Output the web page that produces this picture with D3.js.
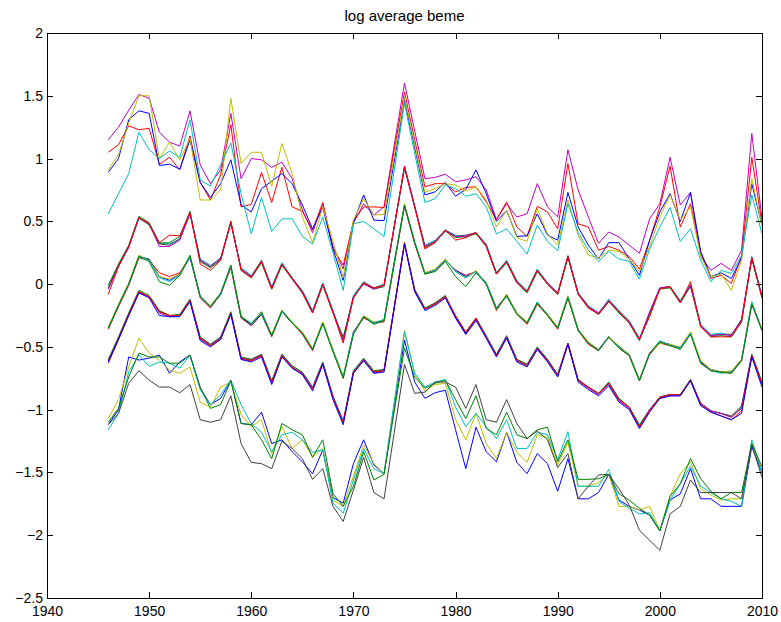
<!DOCTYPE html>
<html>
<head>
<meta charset="utf-8">
<script src="https://cdn.jsdelivr.net/npm/d3@7"></script>
<style>
  body { margin: 0; background: #ffffff; }
  svg text { font-family: "Liberation Sans", Arial, Helvetica, sans-serif; }
</style>
</head>
<body>
<svg id="chart" width="781" height="622"></svg>
<script>
// Years of observation (one value per year, 1946-2010)
const years = [
  1946,1947,1948,1949,1950,1951,1952,1953,1954,1955,
  1956,1957,1958,1959,1960,1961,1962,1963,1964,1965,
  1966,1967,1968,1969,1970,1971,1972,1973,1974,1975,
  1976,1977,1978,1979,1980,1981,1982,1983,1984,1985,
  1986,1987,1988,1989,1990,1991,1992,1993,1994,1995,
  1996,1997,1998,1999,2000,2001,2002,2003,2004,2005,
  2006,2007,2008,2009,2010
];

const xTicks = [1940, 1950, 1960, 1970, 1980, 1990, 2000, 2010];
const yTicks = [-2.5, -2, -1.5, -1, -0.5, 0, 0.5, 1, 1.5, 2];
const chartTitle = "log average beme";

// Log average BE/ME by size quintile (s1 small .. s5 big) and BE/ME quintile (bm1 low .. bm5 high)

// ---- size quintile 1 ----
const bm1_s1 = [
  -1.12,-1.00,-0.58,-0.605,-0.59,-0.565,-0.71,-0.62,-0.565,-0.83,
  -0.96,-0.91,-0.765,-1.11,-1.12,-1.02,-1.27,-1.24,-1.335,-1.415,
  -1.51,-1.32,-1.70,-1.745,-1.43,-1.24,-1.44,-1.51,-0.98,-0.445,
  -0.78,-0.91,-0.865,-0.845,-1.16,-1.47,-1.14,-1.335,-1.415,-1.18,
  -1.42,-1.51,-1.35,-1.43,-1.65,-1.39,-1.71,-1.71,-1.66,-1.515,
  -1.72,-1.77,-1.80,-1.84,-1.965,-1.72,-1.67,-1.47,-1.71,-1.71,
  -1.77,-1.77,-1.77,-1.295,-1.50
];
const bm2_s1 = [
  -0.60,-0.42,-0.23,-0.05,-0.09,-0.21,-0.25,-0.24,-0.12,-0.42,
  -0.48,-0.42,-0.22,-0.58,-0.60,-0.56,-0.77,-0.56,-0.65,-0.70,
  -0.82,-0.62,-0.89,-1.09,-0.69,-0.59,-0.69,-0.68,-0.18,0.33,
  -0.04,-0.19,-0.15,-0.09,-0.26,-0.39,-0.27,-0.41,-0.56,-0.41,
  -0.60,-0.64,-0.50,-0.60,-0.72,-0.47,-0.76,-0.82,-0.87,-0.78,
  -0.91,-0.98,-1.12,-1.00,-0.90,-0.88,-0.88,-0.76,-0.95,-1.01,
  -1.03,-1.06,-0.98,-0.56,-0.78
];
const bm3_s1 = [
  -0.36,-0.18,-0.01,0.21,0.19,0.09,0.06,0.09,0.22,-0.11,
  -0.19,-0.08,0.13,-0.27,-0.33,-0.24,-0.42,-0.22,-0.31,-0.40,
  -0.53,-0.31,-0.53,-0.75,-0.39,-0.27,-0.31,-0.30,0.16,0.62,
  0.32,0.08,0.11,0.19,0.11,0.07,0.10,0.00,-0.21,-0.09,
  -0.24,-0.32,-0.16,-0.25,-0.36,-0.11,-0.37,-0.48,-0.53,-0.42,
  -0.51,-0.57,-0.77,-0.56,-0.47,-0.49,-0.51,-0.39,-0.62,-0.69,
  -0.70,-0.71,-0.61,-0.16,-0.37
];
const bm4_s1 = [
  -0.03,0.15,0.30,0.52,0.48,0.33,0.32,0.36,0.57,0.20,
  0.15,0.20,0.48,0.13,0.07,0.18,-0.02,0.17,0.05,-0.05,
  -0.21,0.01,-0.21,-0.44,-0.09,0.02,-0.03,0.00,0.46,0.92,
  0.61,0.31,0.35,0.43,0.39,0.37,0.41,0.32,0.09,0.19,
  0.03,-0.05,0.12,0.01,-0.07,0.23,-0.07,-0.17,-0.23,-0.12,
  -0.21,-0.29,-0.43,-0.23,-0.03,-0.02,-0.13,0.00,-0.32,-0.40,
  -0.39,-0.41,-0.28,0.22,-0.09
];
const bm5_s1 = [
  1.15,1.25,1.385,1.51,1.48,1.21,1.13,1.10,1.38,0.95,
  0.80,0.91,1.36,0.84,1.00,0.99,0.93,0.97,0.84,0.59,
  0.41,0.64,0.30,0.12,0.485,0.64,0.55,0.615,1.11,1.60,
  1.22,0.84,0.85,0.875,0.815,0.83,0.855,0.75,0.515,0.64,
  0.535,0.56,0.80,0.615,0.535,1.07,0.75,0.535,0.325,0.415,
  0.375,0.31,0.245,0.52,0.64,1.01,0.63,0.73,0.22,0.11,
  0.165,0.11,0.27,1.20,0.52
];

// ---- size quintile 2 ----
const bm1_s2 = [
  -1.07,-0.92,-0.66,-0.43,-0.55,-0.605,-0.685,-0.71,-0.66,-0.94,
  -0.98,-0.82,-0.78,-1.04,-1.135,-1.08,-1.35,-1.135,-1.31,-1.24,
  -1.375,-1.31,-1.72,-1.77,-1.53,-1.28,-1.43,-1.51,-0.94,-0.37,
  -0.71,-0.85,-0.80,-0.79,-1.08,-1.24,-1.03,-1.27,-1.39,-1.18,
  -1.34,-1.42,-1.20,-1.22,-1.44,-1.26,-1.61,-1.61,-1.58,-1.515,
  -1.77,-1.77,-1.80,-1.77,-1.965,-1.69,-1.51,-1.415,-1.63,-1.68,
  -1.72,-1.71,-1.71,-1.27,-1.48
];
const bm2_s2 = [
  -0.61,-0.43,-0.24,-0.06,-0.10,-0.22,-0.25,-0.25,-0.13,-0.43,
  -0.48,-0.43,-0.23,-0.59,-0.60,-0.56,-0.78,-0.56,-0.66,-0.71,
  -0.83,-0.63,-0.90,-1.10,-0.70,-0.60,-0.70,-0.68,-0.18,0.32,
  -0.05,-0.20,-0.15,-0.10,-0.26,-0.39,-0.28,-0.42,-0.56,-0.42,
  -0.60,-0.64,-0.51,-0.60,-0.72,-0.47,-0.76,-0.82,-0.87,-0.79,
  -0.92,-0.98,-1.13,-1.00,-0.90,-0.88,-0.88,-0.76,-0.95,-1.01,
  -1.03,-1.05,-0.97,-0.56,-0.79
];
const bm3_s2 = [
  -0.35,-0.17,0.00,0.22,0.20,0.06,0.03,0.08,0.21,-0.10,
  -0.18,-0.08,0.14,-0.26,-0.33,-0.24,-0.41,-0.22,-0.31,-0.39,
  -0.52,-0.31,-0.53,-0.74,-0.38,-0.26,-0.31,-0.29,0.17,0.63,
  0.33,0.09,0.11,0.19,0.11,0.06,0.10,0.01,-0.19,-0.09,
  -0.23,-0.31,-0.15,-0.24,-0.35,-0.10,-0.36,-0.47,-0.52,-0.42,
  -0.50,-0.56,-0.76,-0.55,-0.46,-0.48,-0.51,-0.39,-0.62,-0.68,
  -0.70,-0.70,-0.60,-0.15,-0.36
];
const bm4_s2 = [
  -0.01,0.16,0.31,0.54,0.49,0.325,0.33,0.38,0.58,0.18,
  0.13,0.19,0.50,0.11,0.05,0.17,-0.04,0.15,0.04,-0.07,
  -0.23,-0.01,-0.23,-0.42,-0.11,0.01,-0.04,-0.02,0.46,0.94,
  0.62,0.29,0.33,0.43,0.37,0.38,0.40,0.30,0.08,0.17,
  0.01,-0.07,0.10,0.00,-0.08,0.21,-0.08,-0.19,-0.24,-0.14,
  -0.23,-0.31,-0.45,-0.24,-0.04,-0.03,-0.15,-0.02,-0.34,-0.42,
  -0.41,-0.42,-0.30,0.20,-0.11
];
const bm5_s2 = [
  1.05,1.11,1.26,1.23,1.24,0.955,1.01,0.91,1.18,0.81,
  0.67,0.87,1.27,0.615,0.635,0.89,0.65,0.93,0.615,0.58,
  0.43,0.65,0.28,0.15,0.50,0.615,0.615,0.61,1.07,1.53,
  1.15,0.775,0.80,0.80,0.735,0.77,0.775,0.655,0.515,0.655,
  0.455,0.38,0.62,0.575,0.44,0.96,0.48,0.455,0.27,0.30,
  0.27,0.22,0.12,0.35,0.615,0.94,0.455,0.64,0.25,0.045,
  0.07,0.005,0.22,1.01,0.48
];

// ---- size quintile 3 ----
const bm1_s3 = [
  -1.16,-1.03,-0.70,-0.565,-0.655,-0.62,-0.63,-0.67,-0.565,-0.84,
  -0.96,-0.88,-0.765,-0.96,-1.11,-1.18,-1.335,-1.20,-1.18,-1.24,
  -1.34,-1.32,-1.745,-1.825,-1.56,-1.31,-1.47,-1.51,-0.94,-0.38,
  -0.71,-0.82,-0.78,-0.76,-0.98,-1.135,-1.03,-1.135,-1.23,-1.08,
  -1.31,-1.31,-1.18,-1.20,-1.40,-1.175,-1.61,-1.61,-1.61,-1.475,
  -1.73,-1.785,-1.83,-1.82,-1.965,-1.72,-1.59,-1.45,-1.61,-1.66,
  -1.71,-1.73,-1.77,-1.24,-1.50
];
const bm2_s3 = [
  -0.62,-0.44,-0.25,-0.07,-0.10,-0.23,-0.26,-0.25,-0.13,-0.44,
  -0.49,-0.43,-0.24,-0.60,-0.61,-0.57,-0.79,-0.57,-0.67,-0.71,
  -0.83,-0.63,-0.90,-1.10,-0.71,-0.60,-0.71,-0.69,-0.19,0.32,
  -0.05,-0.20,-0.16,-0.10,-0.27,-0.40,-0.28,-0.42,-0.57,-0.42,
  -0.61,-0.65,-0.51,-0.61,-0.73,-0.47,-0.77,-0.83,-0.88,-0.80,
  -0.93,-0.99,-1.14,-1.00,-0.91,-0.89,-0.89,-0.77,-0.95,-1.01,
  -1.03,-1.06,-0.99,-0.57,-0.80
];
const bm3_s3 = [
  -0.34,-0.16,0.01,0.23,0.19,0.06,0.04,0.08,0.22,-0.10,
  -0.17,-0.07,0.14,-0.25,-0.32,-0.23,-0.40,-0.21,-0.30,-0.38,
  -0.51,-0.30,-0.52,-0.73,-0.39,-0.25,-0.30,-0.29,0.17,0.64,
  0.33,0.09,0.12,0.20,0.10,0.05,0.11,0.00,-0.20,-0.08,
  -0.23,-0.30,-0.15,-0.24,-0.34,-0.09,-0.36,-0.46,-0.52,-0.43,
  -0.49,-0.56,-0.76,-0.55,-0.47,-0.48,-0.50,-0.38,-0.61,-0.68,
  -0.70,-0.69,-0.60,-0.15,-0.36
];
const bm4_s3 = [
  -0.03,0.15,0.30,0.53,0.47,0.32,0.31,0.36,0.56,0.19,
  0.14,0.21,0.49,0.12,0.06,0.19,-0.03,0.16,0.05,-0.06,
  -0.22,0.00,-0.22,-0.45,-0.10,0.01,-0.03,-0.01,0.46,0.93,
  0.62,0.30,0.34,0.42,0.38,0.39,0.41,0.31,0.09,0.18,
  0.02,-0.06,0.11,0.00,-0.08,0.22,-0.08,-0.18,-0.24,-0.13,
  -0.22,-0.30,-0.44,-0.23,-0.03,-0.02,-0.14,-0.01,-0.33,-0.41,
  -0.40,-0.40,-0.29,0.21,-0.10
];
const bm5_s3 = [
  0.89,1.00,1.31,1.38,1.36,0.945,0.955,0.915,1.15,0.81,
  0.69,0.80,0.99,0.63,0.575,0.76,0.82,0.88,0.80,0.63,
  0.44,0.61,0.28,0.03,0.49,0.71,0.51,0.505,0.98,1.47,
  1.09,0.71,0.735,0.81,0.70,0.755,0.91,0.72,0.50,0.585,
  0.38,0.385,0.56,0.39,0.35,0.73,0.455,0.31,0.20,0.33,
  0.33,0.20,0.07,0.35,0.575,0.72,0.50,0.73,0.26,0.06,
  0.09,0.045,0.21,0.80,0.47
];

// ---- size quintile 4 ----
const bm1_s4 = [
  -1.10,-0.99,-0.74,-0.55,-0.58,-0.58,-0.63,-0.63,-0.565,-0.82,
  -0.99,-0.96,-0.77,-1.11,-1.12,-1.24,-1.39,-1.11,-1.16,-1.20,
  -1.38,-1.24,-1.67,-1.77,-1.61,-1.335,-1.56,-1.515,-1.01,-0.51,
  -0.74,-0.83,-0.79,-0.765,-0.92,-1.07,-0.89,-1.15,-1.20,-1.02,
  -1.20,-1.23,-1.16,-1.14,-1.415,-1.24,-1.555,-1.555,-1.55,-1.515,
  -1.67,-1.72,-1.785,-1.84,-1.965,-1.69,-1.59,-1.39,-1.55,-1.65,
  -1.71,-1.66,-1.66,-1.27,-1.455
];
const bm2_s4 = [
  -0.63,-0.44,-0.24,-0.06,-0.10,-0.22,-0.25,-0.25,-0.13,-0.43,
  -0.49,-0.44,-0.23,-0.59,-0.61,-0.57,-0.78,-0.57,-0.66,-0.72,
  -0.84,-0.64,-0.91,-1.10,-0.70,-0.61,-0.70,-0.69,-0.18,0.33,
  -0.06,-0.20,-0.16,-0.10,-0.25,-0.38,-0.27,-0.43,-0.57,-0.43,
  -0.61,-0.65,-0.52,-0.61,-0.73,-0.48,-0.77,-0.82,-0.87,-0.79,
  -0.92,-0.98,-1.14,-1.01,-0.90,-0.88,-0.88,-0.77,-0.96,-1.02,
  -1.05,-1.08,-1.01,-0.57,-0.79
];
const bm3_s4 = [
  -0.35,-0.17,0.00,0.22,0.19,0.05,0.02,0.07,0.22,-0.09,
  -0.18,-0.07,0.15,-0.26,-0.31,-0.23,-0.41,-0.22,-0.31,-0.39,
  -0.52,-0.32,-0.53,-0.74,-0.39,-0.26,-0.31,-0.28,0.18,0.63,
  0.34,0.08,0.11,0.19,0.10,0.05,0.10,0.01,-0.19,-0.10,
  -0.24,-0.31,-0.14,-0.25,-0.35,-0.10,-0.37,-0.47,-0.53,-0.42,
  -0.50,-0.57,-0.77,-0.55,-0.45,-0.49,-0.51,-0.39,-0.63,-0.69,
  -0.71,-0.70,-0.61,-0.14,-0.37
];
const bm4_s4 = [
  -0.04,0.14,0.29,0.53,0.48,0.30,0.30,0.35,0.56,0.19,
  0.14,0.20,0.49,0.12,0.06,0.18,-0.03,0.16,0.045,-0.06,
  -0.22,0.00,-0.22,-0.45,-0.10,0.00,-0.04,-0.01,0.46,0.94,
  0.62,0.30,0.34,0.43,0.38,0.38,0.41,0.31,0.08,0.18,
  0.02,-0.06,0.11,0.01,-0.07,0.22,-0.07,-0.18,-0.23,-0.13,
  -0.22,-0.30,-0.44,-0.22,-0.03,-0.02,-0.14,-0.01,-0.33,-0.41,
  -0.40,-0.41,-0.28,0.21,-0.10
];
const bm5_s4 = [
  0.91,1.03,1.28,1.50,1.50,1.00,1.13,0.99,1.16,0.67,
  0.67,0.75,1.48,0.96,1.05,1.05,0.78,1.12,0.88,0.535,
  0.33,0.615,0.34,0.05,0.51,0.68,0.55,0.555,1.02,1.49,
  1.11,0.73,0.76,0.80,0.79,0.74,0.775,0.67,0.455,0.59,
  0.37,0.34,0.60,0.40,0.31,0.67,0.39,0.23,0.21,0.27,
  0.26,0.20,0.10,0.30,0.535,0.71,0.51,0.615,0.22,0.06,
  0.08,-0.05,0.19,0.84,0.46
];

// ---- size quintile 5 ----
const bm1_s5 = [
  -1.12,-1.03,-0.79,-0.69,-0.765,-0.82,-0.82,-0.865,-0.80,-1.08,
  -1.10,-1.08,-0.89,-1.27,-1.42,-1.43,-1.47,-1.25,-1.31,-1.39,
  -1.555,-1.47,-1.77,-1.89,-1.64,-1.38,-1.66,-1.71,-1.18,-0.64,
  -0.87,-0.86,-0.78,-0.78,-0.82,-0.99,-0.80,-1.08,-1.10,-0.92,
  -1.11,-1.23,-1.17,-1.24,-1.46,-1.35,-1.71,-1.61,-1.52,-1.515,
  -1.63,-1.76,-1.96,-2.04,-2.12,-1.83,-1.77,-1.56,-1.66,-1.66,
  -1.66,-1.66,-1.71,-1.28,-1.54
];
const bm2_s5 = [
  -0.62,-0.44,-0.25,-0.07,-0.11,-0.25,-0.26,-0.26,-0.14,-0.45,
  -0.50,-0.44,-0.24,-0.60,-0.62,-0.58,-0.80,-0.58,-0.67,-0.72,
  -0.85,-0.64,-0.92,-1.12,-0.71,-0.61,-0.71,-0.70,-0.19,0.32,
  -0.06,-0.21,-0.17,-0.11,-0.27,-0.40,-0.29,-0.43,-0.58,-0.43,
  -0.62,-0.66,-0.52,-0.62,-0.74,-0.48,-0.78,-0.84,-0.89,-0.81,
  -0.94,-1.00,-1.15,-1.02,-0.91,-0.89,-0.89,-0.77,-0.97,-1.02,
  -1.05,-1.08,-1.03,-0.58,-0.82
];
const bm3_s5 = [
  -0.35,-0.17,0.00,0.22,0.18,0.02,-0.01,0.07,0.23,-0.10,
  -0.18,-0.08,0.15,-0.26,-0.32,-0.22,-0.41,-0.21,-0.31,-0.39,
  -0.52,-0.31,-0.54,-0.75,-0.40,-0.26,-0.32,-0.29,0.17,0.63,
  0.33,0.08,0.10,0.18,0.06,-0.02,0.09,0.00,-0.20,-0.09,
  -0.24,-0.31,-0.15,-0.25,-0.35,-0.11,-0.37,-0.47,-0.53,-0.42,
  -0.51,-0.57,-0.77,-0.55,-0.46,-0.49,-0.52,-0.40,-0.63,-0.69,
  -0.70,-0.71,-0.61,-0.16,-0.37
];
const bm4_s5 = [
  -0.08,0.14,0.30,0.53,0.48,0.33,0.39,0.385,0.57,0.16,
  0.11,0.19,0.50,0.11,0.05,0.18,-0.04,0.16,0.04,-0.07,
  -0.23,0.00,-0.23,-0.47,-0.11,0.01,-0.03,-0.01,0.46,0.93,
  0.61,0.28,0.33,0.43,0.35,0.37,0.41,0.30,0.08,0.18,
  0.01,-0.06,0.11,0.00,-0.08,0.22,-0.08,-0.19,-0.24,-0.14,
  -0.22,-0.31,-0.44,-0.26,-0.04,-0.02,-0.15,0.02,-0.34,-0.42,
  -0.42,-0.42,-0.30,0.21,-0.11
];
const bm5_s5 = [
  0.56,0.72,0.88,1.21,1.07,1.00,1.06,1.01,1.31,0.83,
  0.78,0.95,1.125,0.72,0.40,0.69,0.42,0.52,0.52,0.38,
  0.32,0.535,0.25,-0.05,0.48,0.50,0.44,0.38,0.91,1.44,
  1.04,0.65,0.68,0.79,0.76,0.70,0.72,0.615,0.40,0.44,
  0.34,0.24,0.47,0.34,0.265,0.64,0.41,0.27,0.18,0.26,
  0.20,0.18,0.04,0.28,0.455,0.61,0.34,0.44,0.19,0.02,
  0.11,0.085,0.23,0.71,0.40
];

// Plot order: BE/ME runs fastest within each size group
const series = [
  bm1_s1, bm2_s1, bm3_s1, bm4_s1, bm5_s1,
  bm1_s2, bm2_s2, bm3_s2, bm4_s2, bm5_s2,
  bm1_s3, bm2_s3, bm3_s3, bm4_s3, bm5_s3,
  bm1_s4, bm2_s4, bm3_s4, bm4_s4, bm5_s4,
  bm1_s5, bm2_s5, bm3_s5, bm4_s5, bm5_s5
];

// Classic colour order, cycled across the lines
const colorOrder = ["#0000ff", "#008000", "#ff0000", "#00bfbf", "#bf00bf", "#bfbf00", "#404040"];

const plot = { left: 47, right: 762, top: 33, bottom: 598 };

const svg = d3.select("#chart");

const x = d3.scaleLinear().domain([1940, 2010]).range([plot.left, plot.right]);
const y = d3.scaleLinear().domain([-2.5, 2]).range([plot.bottom, plot.top]);

// Series lines
const line = d3.line()
  .x((d, i) => x(years[i]))
  .y(d => y(d));

svg.append("g")
  .attr("fill", "none")
  .attr("stroke-width", 1)
  .attr("stroke-linejoin", "round")
  .selectAll("path")
  .data(series)
  .join("path")
  .attr("stroke", (d, i) => colorOrder[i % colorOrder.length])
  .attr("d", line);

// Axes with inward ticks on all four sides
const tickLen = 6;
const fmtX = d3.format("d");
const fmtY = d3.format("");

const gBottom = svg.append("g")
  .attr("transform", `translate(0,${plot.bottom})`)
  .call(d3.axisBottom(x).tickValues(xTicks).tickFormat(fmtX)
    .tickSizeInner(-tickLen).tickSizeOuter(0).tickPadding(8));

const gTop = svg.append("g")
  .attr("transform", `translate(0,${plot.top})`)
  .call(d3.axisTop(x).tickValues(xTicks).tickFormat("")
    .tickSizeInner(-tickLen).tickSizeOuter(0));

const gLeft = svg.append("g")
  .attr("transform", `translate(${plot.left},0)`)
  .call(d3.axisLeft(y).tickValues(yTicks).tickFormat(fmtY)
    .tickSizeInner(-tickLen).tickSizeOuter(0).tickPadding(4));

const gRight = svg.append("g")
  .attr("transform", `translate(${plot.right},0)`)
  .call(d3.axisRight(y).tickValues(yTicks).tickFormat("")
    .tickSizeInner(-tickLen).tickSizeOuter(0));

[gBottom, gTop, gLeft, gRight].forEach(g => {
  g.select(".domain").attr("stroke", "#000").attr("stroke-width", 1);
  g.selectAll(".tick line").attr("stroke", "#000");
  g.selectAll("text").attr("fill", "#000").attr("font-size", 14)
    .attr("font-family", "'Liberation Sans', Arial, sans-serif");
  g.attr("shape-rendering", "crispEdges");
});

// Title
svg.append("text")
  .attr("x", (plot.left + plot.right) / 2)
  .attr("y", 21)
  .attr("text-anchor", "middle")
  .attr("font-size", 15)
  .attr("fill", "#000")
  .text(chartTitle);
</script>
</body>
</html>
